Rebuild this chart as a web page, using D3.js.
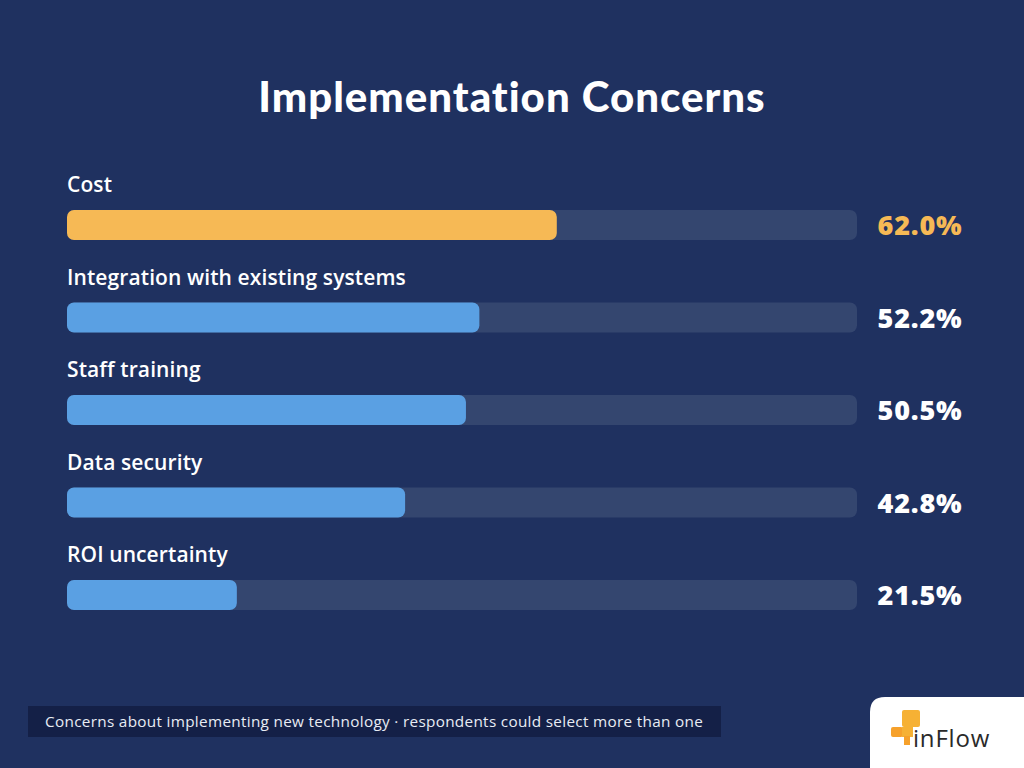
<!DOCTYPE html>
<html><head><meta charset="utf-8">
<script src="https://cdn.jsdelivr.net/npm/d3@7"></script>
<style>body{margin:0;background:#1f3160;}svg{display:block;}</style>
</head><body>
<svg id="c" width="1024" height="768"></svg>
<script>
const categories = ["Cost","Integration with existing systems","Staff training","Data security","ROI uncertainty"];
const values = [62.0, 52.2, 50.5, 42.8, 21.5];
const highlight = [true, false, false, false, false];
const title = "Implementation Concerns";
const footnote = "Concerns about implementing new technology · respondents could select more than one";

const svg = d3.select("#c");
const W = 1024, H = 768;
svg.append("rect").attr("width",W).attr("height",H).attr("fill","#1f3160");

svg.append("text").attr("x",512).attr("y",112).attr("text-anchor","middle")
  .attr("fill","#ffffff").attr("font-family","Lato, 'Open Sans', sans-serif")
  .attr("font-weight",900).attr("font-size",42).attr("letter-spacing",1).text(title);

const x = d3.scaleLinear().domain([0,100]).range([67,857]);
const y = d3.scaleBand().domain(categories).range([210, 210+92.5*5]).paddingInner(0).paddingOuter(0);
const barH = 30;

const g = svg.append("g");
const rows = g.selectAll("g.row").data(categories).join("g").attr("class","row")
  .attr("transform", d => `translate(0,${y(d)})`);

rows.append("rect").attr("x",x(0)).attr("y",0).attr("width",x(100)-x(0)).attr("height",barH)
  .attr("rx",7).attr("fill","#34466f");
rows.append("rect").attr("x",x(0)).attr("y",0).attr("width",(d,i)=>x(values[i])-x(0)).attr("height",barH)
  .attr("rx",7).attr("fill",(d,i)=>highlight[i]?"#f6b955":"#5aa0e3");
rows.append("text").attr("x",x(0)).attr("y",-18).attr("fill","#ffffff")
  .attr("font-family","'Open Sans', Lato, sans-serif").attr("font-weight",600).attr("font-size",21)
  .attr("letter-spacing",0.1).text(d=>d);
rows.append("text").attr("x",920).attr("y",25).attr("text-anchor","middle")
  .attr("fill",(d,i)=>highlight[i]?"#f6b955":"#ffffff")
  .attr("font-family","'Open Sans', Lato, sans-serif").attr("font-weight",800).attr("font-size",27)
  .attr("letter-spacing",0.8).text((d,i)=>values[i].toFixed(1)+"%");

// footnote
svg.append("rect").attr("x",28).attr("y",706).attr("width",693).attr("height",31).attr("fill","#142047");
svg.append("text").attr("x",45).attr("y",727).attr("fill","#e8ecf4")
  .attr("font-family","'Open Sans', sans-serif").attr("font-size",15.3).attr("letter-spacing",0.31).text(footnote);

// logo
svg.append("path").attr("d","M870,768 L870,712 Q870,697 885,697 L1024,697 L1024,768 Z").attr("fill","#ffffff");
const lg = svg.append("g").attr("transform","translate(891,710)");
lg.append("rect").attr("x",11).attr("y",0).attr("width",18).attr("height",17).attr("rx",2).attr("fill","#f6b134");
lg.append("rect").attr("x",0).attr("y",17).attr("width",12).attr("height",10).attr("rx",2).attr("fill","#f6a12b");
lg.append("rect").attr("x",11).attr("y",17).attr("width",11).attr("height",10).attr("fill","#f6b134");
lg.append("rect").attr("x",13).attr("y",26).attr("width",6).attr("height",9).attr("fill","#f6a12b");
svg.append("text").attr("x",913).attr("y",747).attr("fill","#2a2a2a")
  .attr("font-family","'Open Sans', sans-serif").attr("font-size",24).attr("letter-spacing",0.8).text("inFlow");
</script>
</body></html>
